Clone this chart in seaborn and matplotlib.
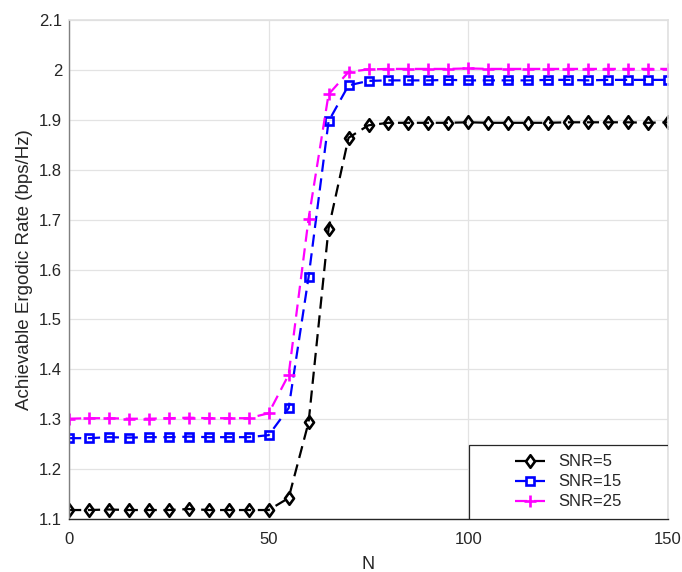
import numpy as np
import pandas as pd
import matplotlib
matplotlib.use("Agg")
import matplotlib.pyplot as plt
import seaborn as sns
from matplotlib.patches import Rectangle
from matplotlib.path import Path

# ---- data ----
N = list(range(0, 151, 5))
snr5 = [1.118, 1.118, 1.119, 1.118, 1.118, 1.118, 1.120, 1.118, 1.118, 1.118, 1.118,
        1.142, 1.294, 1.682, 1.864, 1.889,
        1.894, 1.894, 1.894, 1.894, 1.895, 1.894, 1.894, 1.894, 1.894, 1.895,
        1.895, 1.895, 1.895, 1.894, 1.895]
snr15 = [1.262, 1.262, 1.264, 1.263, 1.264, 1.264, 1.265, 1.264, 1.264, 1.264,
         1.268, 1.322, 1.585, 1.897, 1.969,
         1.978, 1.979, 1.979, 1.979, 1.980, 1.979, 1.979, 1.979, 1.979, 1.980,
         1.980, 1.979, 1.980, 1.980, 1.980, 1.980]
snr25 = [1.301, 1.302, 1.302, 1.301, 1.301, 1.302, 1.303, 1.302, 1.302, 1.302,
         1.312, 1.389, 1.702, 1.951, 1.996,
         2.001, 2.002, 2.002, 2.002, 2.002, 2.003, 2.002, 2.002, 2.002, 2.002,
         2.002, 2.002, 2.002, 2.002, 2.002, 2.002]
labels = ["SNR=5", "SNR=15", "SNR=25"]
colors = ["#000000", "#0000ff", "#ff00ff"]
x_ticks = [0, 50, 100, 150]
y_ticks = [1.1, 1.2, 1.3, 1.4, 1.5, 1.6, 1.7, 1.8, 1.9, 2.0, 2.1]
y_ticklabels = ["1.1", "1.2", "1.3", "1.4", "1.5", "1.6", "1.7", "1.8", "1.9", "2", "2.1"]

sns.set_style("white")
plt.rcParams["font.family"] = ["Liberation Sans", "DejaVu Sans"]

diamond = Path([(0, 1), (0.72, 0), (0, -1), (-0.72, 0), (0, 1)],
               [Path.MOVETO, Path.LINETO, Path.LINETO, Path.LINETO, Path.CLOSEPOLY])
markers = [diamond, "s", "+"]
msizes = [9, 6, 9]

fig = plt.figure(figsize=(6.82, 5.72), dpi=100)
ax = fig.add_axes([69/682, 1-519/572, (668-69)/682, (519-20)/572])

for ys, lab, c, m, ms in zip([snr5, snr15, snr25], labels, colors, markers, msizes):
    df = pd.DataFrame({"N": N, "R": ys})
    sns.lineplot(data=df, x="N", y="R", ax=ax, color=c, marker=m,
                 markersize=ms, markerfacecolor="none", markeredgecolor=c,
                 markeredgewidth=1.9, linewidth=1.6, linestyle=(0, (5.5, 3)),
                 label=lab, legend=False)

ax.set_xlim(0, 150)
ax.set_ylim(1.1, 2.1)
ax.set_xticks(x_ticks)
ax.set_xticklabels([str(t) for t in x_ticks])
ax.set_yticks(y_ticks)
ax.set_yticklabels(y_ticklabels)
ax.grid(True, color="#e3e3e3", linewidth=0.9)
ax.set_axisbelow(True)

tc = "#262626"
ax.tick_params(direction="in", length=4, width=0.8, colors=tc, labelsize=12,
               labelcolor=tc, pad=5)
ax.tick_params(axis="x", pad=9)
ax.set_xlabel("N", fontsize=13, color=tc, labelpad=7)
ax.set_ylabel("Achievable Ergodic Rate (bps/Hz)", fontsize=13.5, color=tc, labelpad=4)

for s in ["top", "right"]:
    ax.spines[s].set_color("#e0e0e0")
    ax.spines[s].set_linewidth(1.2)
ax.spines["left"].set_color("#808080")
ax.spines["left"].set_linewidth(1.0)
ax.spines["bottom"].set_color("#262626")
ax.spines["bottom"].set_linewidth(1.0)

# legend box
bx, by, bw, bh = (469-69)/599, 0.0, (668-469)/599, (519-445)/499
ax.add_patch(Rectangle((bx, by), bw, bh, transform=ax.transAxes,
                       facecolor="white", edgecolor="#262626", linewidth=0.9,
                       zorder=5))
handles, labs = ax.get_legend_handles_labels()
leg = ax.legend(handles, labs, loc="center", bbox_to_anchor=(bx, by, bw, bh),
                frameon=False, fontsize=12, handlelength=1.8, handletextpad=0.8,
                labelspacing=0.3, borderpad=0.2)
leg.set_zorder(6)
for t in leg.get_texts():
    t.set_color(tc)

fig.savefig("out.png", dpi=100)
